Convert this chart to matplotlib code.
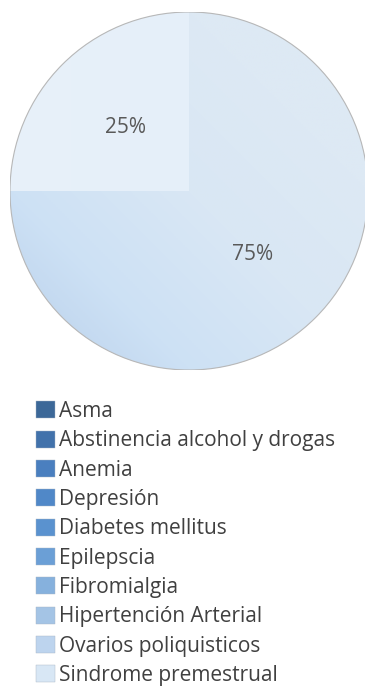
import numpy as np
import matplotlib.pyplot as plt
from matplotlib.patches import Patch, Circle
from matplotlib.colors import LinearSegmentedColormap

# categories and values
labels = ['Asma', 'Abstinencia alcohol y drogas', 'Anemia', 'Depresión',
          'Diabetes mellitus', 'Epilepscia', 'Fibromialgia',
          'Hipertención Arterial', 'Ovarios poliquisticos', 'Sindrome premestrual']
values = [0, 0, 0, 0, 0, 0, 0, 0, 75, 25]
colors = ['#3c6898', '#4272ab', '#4a7fbf', '#5088c8', '#5a92cf',
          '#6b9fd6', '#86b1dd', '#a4c4e5', '#bdd4ee', '#d8e7f5']

# shading used inside the two visible slices (light, office-style gradient)
shade = {8: ['#b8cfea', '#cde1f5', '#d9e7f4', '#dde9f4', '#dde9f4'],
         9: ['#e8f1fa', '#e5eff9', '#dbeaf8']}

plt.rcParams['font.family'] = ['Open Sans', 'DejaVu Sans']

fig = plt.figure(figsize=(3.65, 6.9), dpi=100)
ax = fig.add_axes([10/365, 320/690, 358/365, 358/690])

def fmt(p):
    return f'{p:.0f}%' if p > 0 else ''

wedges, texts, autotexts = ax.pie(values, colors=colors, startangle=90, counterclock=False,
                                  autopct=fmt, pctdistance=0.5,
                                  wedgeprops=dict(linewidth=0),
                                  textprops=dict(color='#595959', fontsize=15))

# diagonal gradient, darker towards the lower left
xx, yy = np.meshgrid(np.linspace(0, 1, 200), np.linspace(0, 1, 200))
diag = (xx + yy) / 2
hgrad = xx
for i, cols in shade.items():
    cmap = LinearSegmentedColormap.from_list(f's{i}', cols)
    g = diag if i == 8 else hgrad
    im = ax.imshow(g, cmap=cmap, extent=(-1, 1, -1, 1), origin='lower',
                   aspect='auto', zorder=1.5)
    im.set_clip_path(wedges[i])
for t in autotexts:
    t.set_zorder(3)

ax.add_patch(Circle((0, 0), 1, fill=False, edgecolor='#b8b8b8', linewidth=0.8, zorder=2))
ax.set_xlim(-1.0, 1.0)
ax.set_ylim(-1.0, 1.0)
ax.set_aspect('equal')
ax.axis('off')

handles = [Patch(facecolor=c, edgecolor='#a8b4c4', linewidth=0.3) for c in colors]
fig.legend(handles, labels, loc='upper left', bbox_to_anchor=(36/365, 1 - 401/690),
           frameon=False, fontsize=15, labelcolor='#404040',
           handlelength=0.9, handleheight=0.9, handletextpad=0.2,
           labelspacing=0.4, borderaxespad=0, borderpad=0)

fig.savefig('out.png', dpi=100)
